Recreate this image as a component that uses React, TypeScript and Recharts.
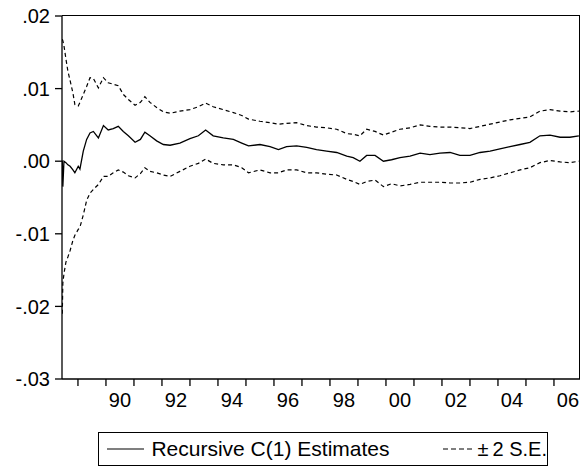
import React from "react";
import { LineChart, Line, XAxis, YAxis, Legend } from "recharts";

const years = [
  1988.44, 1988.46, 1988.5, 1988.57, 1988.64, 1988.72, 1988.82, 1988.89,
  1989.01, 1989.07, 1989.19, 1989.31, 1989.43, 1989.55, 1989.73, 1989.91,
  1990.08, 1990.26, 1990.44, 1990.62, 1990.8, 1991.04, 1991.23, 1991.39,
  1991.57, 1991.81, 1992.05, 1992.29, 1992.64, 1993.0, 1993.3, 1993.56,
  1993.83, 1994.19, 1994.55, 1994.85, 1995.09, 1995.5, 1995.86, 1996.16,
  1996.45, 1996.81, 1997.17, 1997.52, 1997.88, 1998.24, 1998.6, 1998.83,
  1999.07, 1999.31, 1999.61, 1999.91, 2000.2, 2000.5, 2000.86, 2001.22,
  2001.57, 2001.93, 2002.29, 2002.64, 2003.0, 2003.36, 2003.72, 2004.07,
  2004.43, 2004.79, 2005.14, 2005.5, 2005.86, 2006.22, 2006.57, 2006.89,
];

const estimate = [
  0.0001, -0.0035, 0.0, -0.0002, -0.0005, -0.0007, -0.0012, -0.0016,
  -0.0007, -0.0011, 0.0014, 0.003, 0.0039, 0.0041, 0.0032, 0.0049,
  0.0043, 0.0045, 0.0048, 0.0041, 0.0035, 0.0026, 0.003, 0.004,
  0.0035, 0.0028, 0.0023, 0.0022, 0.0025, 0.0031, 0.0035, 0.0043,
  0.0035, 0.0032, 0.003, 0.0025, 0.0021, 0.0023, 0.002, 0.0016,
  0.002, 0.0021, 0.0019, 0.0016, 0.0014, 0.0012, 0.0007, 0.0005,
  0.0, 0.0008, 0.0008, 0.0, 0.0002, 0.0005, 0.0007, 0.0011,
  0.0009, 0.0011, 0.0012, 0.0008, 0.0008, 0.0012, 0.0014, 0.0017,
  0.002, 0.0023, 0.0026, 0.0035, 0.0036, 0.0033, 0.0033, 0.0035,
];

const upperBand = [
  0.0168, 0.0166, 0.0159, 0.0141, 0.0124, 0.0111, 0.0094, 0.0078,
  0.0076, 0.0081, 0.0092, 0.0103, 0.0115, 0.0114, 0.0101, 0.0115,
  0.0108, 0.0106, 0.0104, 0.0092, 0.0085, 0.0077, 0.0081, 0.0089,
  0.0081, 0.0074, 0.0068, 0.0066, 0.0069, 0.0071, 0.0075, 0.008,
  0.0075, 0.0071, 0.0067, 0.0063, 0.0058, 0.0055, 0.0053, 0.0051,
  0.0052, 0.0053, 0.0049, 0.0047, 0.0046, 0.0044, 0.0038, 0.0037,
  0.0035, 0.0044, 0.0041, 0.0036, 0.004, 0.0044, 0.0046, 0.005,
  0.0048, 0.0047, 0.0047, 0.0046, 0.0045, 0.0048, 0.0051, 0.0054,
  0.0057, 0.0059, 0.0061, 0.0069, 0.0071, 0.0069, 0.0068, 0.0069,
];

const lowerBand = [
  -0.021, -0.0168, -0.0155, -0.0139, -0.0132, -0.0123, -0.0109, -0.0102,
  -0.0094, -0.0091, -0.0074, -0.0054, -0.0044, -0.0039, -0.0032, -0.0021,
  -0.0021, -0.0016, -0.0012, -0.0015, -0.002, -0.0023, -0.0017, -0.0009,
  -0.0014, -0.0016, -0.0019, -0.0021, -0.0014, -0.0007, -0.0003, 0.0003,
  -0.0003, -0.0005, -0.0005, -0.0009, -0.0016, -0.0012, -0.0016, -0.0016,
  -0.0012, -0.0012, -0.0016, -0.0016, -0.0018, -0.0019, -0.0025, -0.0028,
  -0.0032, -0.0028, -0.0026, -0.0035, -0.0031, -0.0034, -0.0032, -0.0029,
  -0.0029, -0.0029, -0.003, -0.003, -0.0029, -0.0025, -0.0023, -0.002,
  -0.0016, -0.0012, -0.0009, -0.0002, 0.0001, -0.0001, -0.0002, 0.0,
];

const yTicks = [-0.03, -0.02, -0.01, 0.0, 0.01, 0.02];
const yearTicks = [
  1989, 1990, 1991, 1992, 1993, 1994, 1995, 1996, 1997, 1998, 1999, 2000,
  2001, 2002, 2003, 2004, 2005, 2006,
];

const X_DOMAIN = [1988.43, 2006.93];
const Y_DOMAIN = [-0.03, 0.02];
const FONT = '"Liberation Sans", Arial, sans-serif';
const axisStroke = { stroke: "#000", strokeWidth: 1.3 };

// plot area is 62..580 x 16..379
const MARGIN = { top: 16, right: 5, left: 0, bottom: 50 };
const Y_AXIS_W = 62;
const X_AXIS_H = 40;
const CHART_W = 585;
const CHART_H = 469;

const data = years.map((t, i) => ({
  t,
  est: estimate[i],
  hi: upperBand[i],
  lo: lowerBand[i],
}));

const fmtY = (v: number) => {
  const s = Math.abs(v).toFixed(2).replace(/^0/, "");
  return v < 0 ? "-" + s : s;
};

// labels only on even years, centred in the middle of the year
const YearTick = (props: any) => {
  const { x, y, payload } = props;
  const yr = Math.round(payload.value);
  if (yr % 2 !== 0) return null;
  return (
    <text
      x={x + 14}
      y={y + 21}
      textAnchor="middle"
      fill="#000"
      fontSize={20}
      fontFamily={FONT}
    >
      {String(yr % 100).padStart(2, "0")}
    </text>
  );
};

const plotLeft = MARGIN.left + Y_AXIS_W;
const plotTop = MARGIN.top;
const plotW = CHART_W - plotLeft - MARGIN.right;
const plotH = CHART_H - MARGIN.top - MARGIN.bottom - X_AXIS_H;

// legend layer also carries the top/right edges of the plot frame
const LegendLayer = () => (
  <div style={{ position: "relative", width: CHART_W, height: CHART_H }}>
    <div
      style={{
        position: "absolute",
        left: plotLeft,
        top: plotTop - 1,
        width: plotW - 1,
        height: plotH,
        borderTop: "1.5px solid #000",
        borderRight: "1.5px solid #000",
      }}
    />
    <div
      style={{
        position: "absolute",
        left: 98,
        top: 432,
        width: 450,
        height: 34,
        boxSizing: "border-box",
        border: "1.5px solid #000",
        background: "#fff",
        display: "flex",
        alignItems: "center",
        fontFamily: FONT,
        fontSize: 21,
        color: "#000",
        whiteSpace: "nowrap",
      }}
    >
      <svg width={40} height={4} style={{ marginLeft: 8 }}>
        <line x1={0} y1={2} x2={40} y2={2} stroke="#000" strokeWidth={1.2} />
      </svg>
      <span style={{ marginLeft: 7 }}>Recursive C(1) Estimates</span>
      <svg width={30} height={4} style={{ marginLeft: 54 }}>
        <line
          x1={0}
          y1={2}
          x2={30}
          y2={2}
          stroke="#000"
          strokeWidth={1.2}
          strokeDasharray="5 3"
        />
      </svg>
      <span style={{ marginLeft: 6, fontSize: 20 }}>±&thinsp;2 S.E.</span>
    </div>
  </div>
);

export default function App() {
  return (
    <div style={{ position: "absolute", left: 0, top: 0, background: "#fff" }}>
      <LineChart width={CHART_W} height={CHART_H} data={data} margin={MARGIN}>
        <XAxis
          dataKey="t"
          type="number"
          domain={X_DOMAIN}
          allowDataOverflow
          ticks={yearTicks}
          interval={0}
          height={X_AXIS_H}
          tickSize={7}
          tickMargin={0}
          axisLine={axisStroke}
          tickLine={axisStroke}
          tick={<YearTick />}
        />
        <YAxis
          type="number"
          domain={Y_DOMAIN}
          allowDataOverflow
          ticks={yTicks}
          interval={0}
          width={Y_AXIS_W}
          tickSize={7}
          tickMargin={5}
          tickFormatter={fmtY}
          axisLine={axisStroke}
          tickLine={axisStroke}
          tick={{ fill: "#000", fontSize: 20, fontFamily: FONT }}
        />
        <Line
          type="linear"
          dataKey="hi"
          stroke="#000"
          strokeWidth={1.2}
          strokeDasharray="4 3"
          dot={false}
          isAnimationActive={false}
        />
        <Line
          type="linear"
          dataKey="lo"
          stroke="#000"
          strokeWidth={1.2}
          strokeDasharray="4 3"
          dot={false}
          isAnimationActive={false}
        />
        <Line
          type="linear"
          dataKey="est"
          stroke="#000"
          strokeWidth={1.3}
          dot={false}
          isAnimationActive={false}
        />
        <Legend
          layout="horizontal"
          verticalAlign="middle"
          align="center"
          content={() => <LegendLayer />}
          wrapperStyle={{
            left: 0,
            top: 0,
            width: CHART_W,
            height: CHART_H,
            pointerEvents: "none",
          }}
        />
      </LineChart>
    </div>
  );
}
